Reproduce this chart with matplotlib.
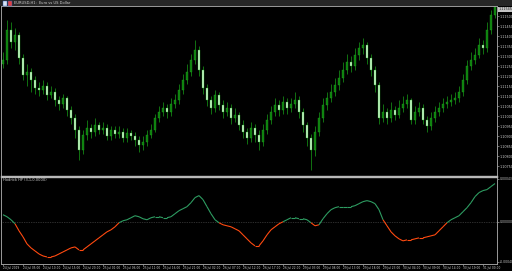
import numpy as np
import pandas as pd
import matplotlib
matplotlib.use("Agg")
import matplotlib.pyplot as plt
from matplotlib.patches import Rectangle
from matplotlib.collections import LineCollection
from matplotlib.transforms import blended_transform_factory

# EURUSD H1 bars
first_open = 1.11260
closes = [
    1.11280, 1.11430, 1.11370, 1.11405, 1.11290, 1.11205, 1.11220, 1.11180, 1.11140, 1.11130,
    1.11150, 1.11105, 1.11120, 1.11080, 1.11060, 1.11090, 1.11030, 1.10990, 1.10930, 1.10830,
    1.10905, 1.10940, 1.10920, 1.10955, 1.10930, 1.10940, 1.10900, 1.10930, 1.10910, 1.10920,
    1.10890, 1.10915, 1.10900, 1.10880, 1.10855, 1.10870, 1.10905, 1.10930, 1.10990, 1.11020,
    1.11040, 1.11020, 1.11060, 1.11080, 1.11130, 1.11180, 1.11220, 1.11280, 1.11330, 1.11230,
    1.11140, 1.11080, 1.11040, 1.11105, 1.11055, 1.11020, 1.11040, 1.10990, 1.11005, 1.10955,
    1.10920, 1.10890, 1.10940, 1.10905, 1.10870, 1.10930, 1.10980, 1.11020, 1.11055, 1.11030,
    1.11070, 1.11040, 1.11060, 1.11080, 1.11020, 1.10955, 1.10890, 1.10830, 1.10920, 1.10990,
    1.11055, 1.11090, 1.11120, 1.11155, 1.11190, 1.11230, 1.11270, 1.11250, 1.11305, 1.11340,
    1.11355, 1.11290, 1.11230, 1.11155, 1.10990, 1.11020, 1.10990, 1.11030, 1.11005, 1.11040,
    1.11060, 1.11080, 1.10980, 1.11020, 1.11040, 1.10980, 1.10950, 1.10990, 1.11020, 1.11040,
    1.11060, 1.11070, 1.11080, 1.11090, 1.11120, 1.11180, 1.11250, 1.11280, 1.11305, 1.11355,
    1.11340, 1.11430, 1.11505, 1.11545,
]
highs = [
    1.11320, 1.11480, 1.11470, 1.11440, 1.11420, 1.11310, 1.11260, 1.11240, 1.11200, 1.11170,
    1.11180, 1.11170, 1.11150, 1.11140, 1.11100, 1.11110, 1.11100, 1.11050, 1.11010, 1.10950,
    1.10930, 1.10980, 1.10960, 1.10990, 1.10970, 1.10970, 1.10960, 1.10950, 1.10950, 1.10950,
    1.10940, 1.10940, 1.10930, 1.10920, 1.10900, 1.10900, 1.10930, 1.10960, 1.11010, 1.11050,
    1.11070, 1.11060, 1.11090, 1.11110, 1.11160, 1.11210, 1.11260, 1.11310, 1.11380, 1.11350,
    1.11250, 1.11160, 1.11100, 1.11130, 1.11120, 1.11080, 1.11070, 1.11060, 1.11040, 1.11020,
    1.10980, 1.10940, 1.10970, 1.10960, 1.10930, 1.10960, 1.11010, 1.11050, 1.11090, 1.11080,
    1.11100, 1.11090, 1.11090, 1.11120, 1.11100, 1.11040, 1.10970, 1.10910, 1.10950, 1.11020,
    1.11090, 1.11120, 1.11160, 1.11190, 1.11230, 1.11270, 1.11310, 1.11300, 1.11340, 1.11370,
    1.11390, 1.11370, 1.11310, 1.11250, 1.11170, 1.11060, 1.11040, 1.11070, 1.11050, 1.11080,
    1.11100, 1.11110, 1.11090, 1.11050, 1.11070, 1.11060, 1.11000, 1.11020, 1.11050, 1.11070,
    1.11090, 1.11100, 1.11110, 1.11120, 1.11150, 1.11210, 1.11280, 1.11320, 1.11340, 1.11390,
    1.11380, 1.11470, 1.11530, 1.11550,
]
lows = [
    1.11240, 1.11260, 1.11340, 1.11330, 1.11260, 1.11180, 1.11150, 1.11120, 1.11110, 1.11100,
    1.11110, 1.11080, 1.11090, 1.11050, 1.11030, 1.11040, 1.11000, 1.10960, 1.10890, 1.10780,
    1.10810, 1.10880, 1.10890, 1.10900, 1.10910, 1.10910, 1.10880, 1.10880, 1.10890, 1.10890,
    1.10870, 1.10870, 1.10880, 1.10850, 1.10820, 1.10830, 1.10850, 1.10890, 1.10920, 1.10970,
    1.11000, 1.10990, 1.11000, 1.11040, 1.11060, 1.11110, 1.11160, 1.11200, 1.11260, 1.11200,
    1.11110, 1.11050, 1.11010, 1.11020, 1.11030, 1.10990, 1.11000, 1.10960, 1.10970, 1.10930,
    1.10890, 1.10860, 1.10870, 1.10870, 1.10830, 1.10850, 1.10910, 1.10960, 1.11000, 1.11000,
    1.11010, 1.11010, 1.11020, 1.11040, 1.10990, 1.10920, 1.10850, 1.10730, 1.10800, 1.10900,
    1.10970, 1.11030, 1.11070, 1.11100, 1.11130, 1.11170, 1.11210, 1.11220, 1.11230, 1.11280,
    1.11310, 1.11260, 1.11200, 1.11120, 1.10960, 1.10970, 1.10960, 1.10970, 1.10980, 1.10990,
    1.11020, 1.11040, 1.10960, 1.10960, 1.11000, 1.10960, 1.10920, 1.10930, 1.10970, 1.11000,
    1.11020, 1.11040, 1.11050, 1.11060, 1.11070, 1.11100, 1.11160, 1.11230, 1.11260, 1.11290,
    1.11310, 1.11320, 1.11410, 1.11490,
]
# indicator values, in units of 1e-5
hp_values = np.array([
    7, 5, 2, -2, -9, -15, -22, -26, -29, -32,
    -34, -35, -35, -34, -32, -30, -28, -26, -25, -28,
    -28, -25, -22, -19, -16, -13, -10, -8, -5, -1,
    1, 2, 4, 6, 5, 3, 2, 4, 5, 5,
    4, 4, 5, 8, 11, 13, 15, 19, 24, 26,
    22, 15, 8, 2, -1, -3, -4, -5, -7, -9,
    -13, -17, -21, -24, -24, -19, -13, -8, -5, -2,
    0, 2, 4, 4, 3, 3, 2, -1, -4, -3,
    3, 8, 12, 14, 15, 15, 15, 15, 16, 18,
    20, 21, 20, 18, 12, 2, -4, -10, -14, -17,
    -19, -18, -18, -17, -16, -16, -15, -14, -13, -9,
    -5, -1, 2, 4, 6, 10, 14, 19, 25, 29,
    31, 32, 35, 38,
]) * 1e-5

price_ticks = [1.10750 + 0.0005 * k for k in range(16)]
hp_ticks = [0.00043, 0.0, -0.00040]
hp_tick_labels = ["0.00043", "0.00000", "-0.00040"]
title = "EURUSD,H1:  Euro vs US Dollar"
hp_title = "Hodrick HP (3,1,0.0000)"

W, H = 512, 271
GRAY = "#9a9a9a"
TXT = "#cfcfcf"


def frac(x0, y0, x1, y1):
    return [x0 / W, 1 - y1 / H, (x1 - x0) / W, (y1 - y0) / H]


def style_axes(ax, size):
    ax.set_facecolor("black")
    for s in ax.spines.values():
        s.set_color(GRAY)
        s.set_linewidth(0.7)
    ax.yaxis.tick_right()
    ax.tick_params(axis="y", colors=GRAY, labelcolor=TXT, labelsize=size,
                   length=1.2, width=0.5, pad=0.6)


def main():
    n = len(closes)
    x = np.arange(n)
    opens = np.array([first_open] + closes[:-1])
    c = np.array(closes)

    hours = pd.date_range("2019-07-24 00:00", periods=240, freq="h")
    hours = hours[hours.dayofweek < 5][:n]

    fig = plt.figure(figsize=(W / 100, H / 100), dpi=100, facecolor="black")
    fig.patches.append(Rectangle((0, 1 - 6 / H), 1, 6 / H, transform=fig.transFigure,
                                 facecolor="#262626", edgecolor="none"))
    fig.patches.append(Rectangle((3 / W, 1 - 5.5 / H), 3.5 / W, 4 / H, transform=fig.transFigure,
                                 facecolor="#d8e4f4", edgecolor="#3060c0", lw=0.3))
    fig.patches.append(Rectangle((8 / W, 1 - 5.5 / H), 3.5 / W, 4 / H, transform=fig.transFigure,
                                 facecolor="#e04040", edgecolor="#3060c0", lw=0.3))
    fig.text(14 / W, 1 - 3.2 / H, title, fontsize=2.6, color=TXT, va="center")

    ax = fig.add_axes(frac(1, 6, 497, 175.5))
    style_axes(ax, 2.4)
    ax.spines["bottom"].set_color("#b8b8b8")
    ax.spines["bottom"].set_linewidth(1.0)
    bull = c >= opens
    ax.vlines(x, lows, highs, color="#159015", lw=0.55, zorder=1)
    body_lo = np.minimum(opens, c)
    body_h = np.maximum(np.abs(c - opens), 0.000008)
    ax.bar(x[bull], body_h[bull], bottom=body_lo[bull], width=0.35,
           color="#0e7e0e", edgecolor="#1fa51f", lw=0.25, zorder=2)
    ax.bar(x[~bull], body_h[~bull], bottom=body_lo[~bull], width=0.35,
           color="#c8f5c8", edgecolor="#1fa51f", lw=0.25, zorder=2)
    ax.set_xlim(-0.5, n - 0.5)
    ax.set_ylim(1.10705, 1.11550)
    ax.set_xticks([])
    ax.set_yticks(price_ticks)
    ax.set_yticklabels([f"{p:.5f}" for p in price_ticks])
    tr = blended_transform_factory(ax.transAxes, ax.transData)
    ax.text(1.003, 1.11535, f"{closes[-1]:.5f}", transform=tr, fontsize=2.4,
            color="#202020", va="center", ha="left",
            bbox=dict(boxstyle="square,pad=0.15", facecolor="#c4c4c4", edgecolor="none"))

    ax2 = fig.add_axes(frac(1, 176.5, 497, 264))
    style_axes(ax2, 2.2)
    ax2.spines["top"].set_color("#b8b8b8")
    ax2.spines["top"].set_linewidth(1.0)
    ax2.axhline(0, color="#5a5a5a", lw=0.5, ls=(0, (1, 1.5)))
    pts = np.column_stack([x, hp_values])
    segs = np.stack([pts[:-1], pts[1:]], axis=1)
    mid = (hp_values[:-1] + hp_values[1:]) / 2
    cols = ["#2e9d62" if m >= 0 else "#ff4a10" for m in mid]
    ax2.add_collection(LineCollection(segs, colors=cols, linewidths=0.8))
    ax2.set_xlim(-0.5, n - 0.5)
    ax2.set_ylim(-0.00042, 0.00045)
    ax2.set_yticks(hp_ticks)
    ax2.set_yticklabels(hp_tick_labels)
    ax2.text(0.004, 0.985, hp_title, transform=ax2.transAxes, fontsize=2.6,
             color=TXT, va="top", ha="left")

    tick_idx = list(range(0, n, 5))
    tick_labels = []
    for i in tick_idx:
        d = hours[i]
        tick_labels.append(f"{d.day} {d:%b} 2019" if i == 0 else f"{d.day} {d:%b %H:%M}")
    ax2.set_xticks(tick_idx)
    ax2.set_xticklabels(tick_labels, ha="left")
    ax2.tick_params(axis="x", colors=GRAY, labelcolor=TXT, labelsize=2.1,
                    length=1.2, width=0.5, pad=0.6)

    fig.savefig("out.png", dpi=100, facecolor="black")
    plt.close(fig)


if __name__ == "__main__":
    main()
